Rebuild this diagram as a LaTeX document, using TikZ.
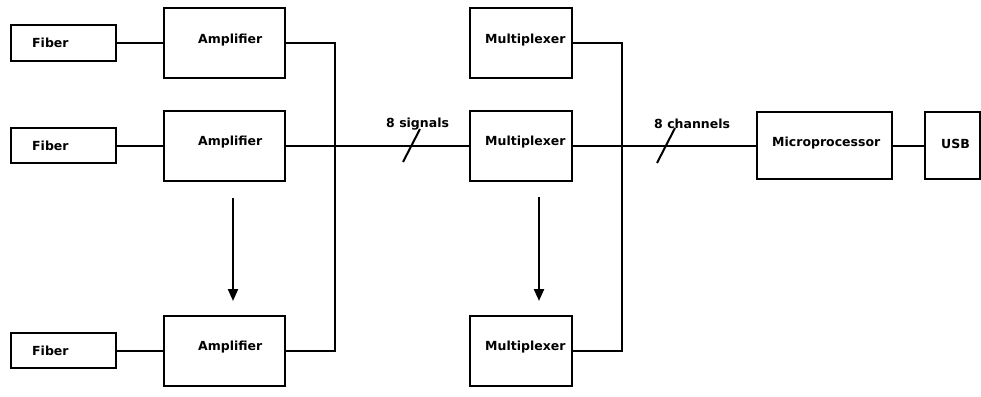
\documentclass[tikz,border=0pt]{standalone}
\usepackage{fontspec}
\setmainfont{DejaVu Sans}
\usetikzlibrary{arrows.meta,calc}

\tikzset{
	box/.style={draw, line width=2pt, inner sep=0pt},
	lbl/.style={anchor=west, inner sep=0pt, font=\bfseries\fontsize{12.5}{14}\selectfont},
	wire/.style={line width=2pt},
	flow/.style={line width=2.2pt, -{Triangle[length=12pt,width=10pt]}}
}

\begin{document}
\begin{tikzpicture}[x=1pt,y=1pt,yscale=-1]
		\useasboundingbox (0,0) rectangle (981,396);

		% Fiber boxes on the left
		\node[box, minimum width=105, minimum height=35] (fiber1) at (63.5,43) {};
		\node[box, minimum width=105, minimum height=35] (fiber2) at (63.5,145.5) {};
		\node[box, minimum width=105, minimum height=35] (fiber3) at (63.5,350.5) {};
		\node[lbl] (fiber1-t) at ($(fiber1.west)+(22,0)$) {Fiber};
		\node[lbl] (fiber2-t) at ($(fiber2.west)+(22,0)$) {Fiber};
		\node[lbl] (fiber3-t) at ($(fiber3.west)+(22,0)$) {Fiber};

		% Amplifier boxes
		\node[box, minimum width=121, minimum height=70] (amp1) at (224.5,43) {};
		\node[box, minimum width=121, minimum height=70] (amp2) at (224.5,145.5) {};
		\node[box, minimum width=121, minimum height=70] (amp3) at (224.5,350.5) {};
		\node[lbl] (amp1-t) at ($(amp1.west)+(35,-3)$) {Amplifier};
		\node[lbl] (amp2-t) at ($(amp2.west)+(35,-3)$) {Amplifier};
		\node[lbl] (amp3-t) at ($(amp3.west)+(35,-3)$) {Amplifier};

		% Multiplexer boxes
		\node[box, minimum width=102, minimum height=70] (mux1) at (521,43) {};
		\node[box, minimum width=102, minimum height=70] (mux2) at (521,145.5) {};
		\node[box, minimum width=102, minimum height=70] (mux3) at (521,350.5) {};
		\node[lbl] (mux1-t) at ($(mux1.west)+(16,-3)$) {Multiplexer};
		\node[lbl] (mux2-t) at ($(mux2.west)+(16,-3)$) {Multiplexer};
		\node[lbl] (mux3-t) at ($(mux3.west)+(16,-3)$) {Multiplexer};

		% Microprocessor and USB
		\node[box, minimum width=135, minimum height=67] (mcu) at (824.5,145.5) {};
		\node[box, minimum width=55, minimum height=67] (usb) at (952.5,145.5) {};
		\node[lbl] (mcu-t) at ($(mcu.west)+(16,-2)$) {Microprocessor};
		\node[lbl] (usb-t) at ($(usb.west)+(17,-2)$) {USB};

		% Vertical buses
		\coordinate (busL) at (335,0);
		\coordinate (busR) at (622,0);

		% Fiber to amplifier links
		\draw[wire] (fiber1.east) -- (amp1.west);
		\draw[wire] (fiber2.east) -- (amp2.west);
		\draw[wire] (fiber3.east) -- (amp3.west);

		% Amplifier outputs onto the left bus
		\draw[wire] (amp1.east) -| (busL |- amp3.east) -- (amp3.east);
		\draw[wire] (amp2.east) -- (mux2.west);

		% Multiplexer outputs onto the right bus
		\draw[wire] (mux1.east) -| (busR |- mux3.east) -- (mux3.east);
		\draw[wire] (mux2.east) -- (mcu.west);
		\draw[wire] (mcu.east) -- (usb.west);

		% Bus width marks
		\draw[wire] (403,162) -- (420,129);
		\draw[wire] (657,163) -- (675,128);
		\node[lbl] (sig) at (386,124) {8 signals};
		\node[lbl] (chan) at (654,124) {8 channels};

		% Arrows showing the repeated stages
		\coordinate (ampA) at (233,198);
		\coordinate (ampB) at (233,301);
		\coordinate (muxA) at (539,197);
		\coordinate (muxB) at (539,301);
		\draw[flow] (ampA) -- (ampB);
		\draw[flow] (muxA) -- (muxB);
\end{tikzpicture}
\end{document}
